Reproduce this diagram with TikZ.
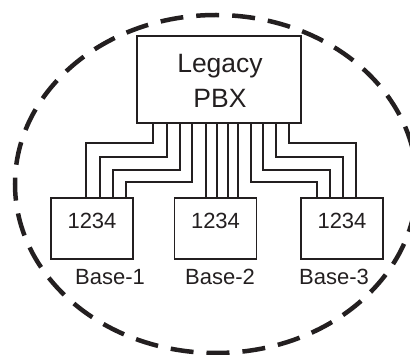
\documentclass[tikz,border=0pt]{standalone}
\usepackage{fontspec}
\setmainfont{Liberation Sans}
\definecolor{ink}{HTML}{231F20}
\begin{document}
\begin{tikzpicture}[x=1pt,y=-1pt,
  box/.style={draw=ink,line width=1.6pt,inner sep=0pt},
  wire/.style={draw=ink,line width=1.1pt},
  basebox/.style={box,minimum width=82pt,minimum height=61pt},
  lbl/.style={text=ink,font=\fontsize{22}{25}\selectfont,inner sep=0pt},
  ring/.style={draw=ink,line width=4.5pt,dash pattern=on 23pt off 13pt}]
\useasboundingbox (0,0) rectangle (410,355);
\draw[ring] (216,184) ellipse [x radius=201pt,y radius=169pt];
\node[box,minimum width=164pt,minimum height=87pt] (pbx) at (219,79.5) {};
\node[text=ink,align=center,font=\fontsize{26.5}{35}\selectfont,inner sep=0pt] (pbxt) at (220,81) {Legacy\\PBX};
\node[basebox] (b1) at (92,228.5) {};
\node[basebox] (b2) at (215.5,228.5) {};
\node[basebox] (b3) at (342,228.5) {};
\node[lbl] (n1) at (92,221) {1234};
\node[lbl] (n2) at (215.5,221) {1234};
\node[lbl] (n3) at (342,221) {1234};
\node[lbl] (l1) at (110,277) {Base-1};
\node[lbl] (l2) at (220,277) {Base-2};
\node[lbl] (l3) at (334,277) {Base-3};
% left group
\draw[wire] (153,0 |- pbx.south) |- (86,143) -- (86,0 |- b1.north);
\draw[wire] (167,0 |- pbx.south) |- (100,157) -- (100,0 |- b1.north);
\draw[wire] (180,0 |- pbx.south) |- (113,170) -- (113,0 |- b1.north);
\draw[wire] (192,0 |- pbx.south) |- (126,182) -- (126,0 |- b1.north);
% middle group
\draw[wire] (206,0 |- pbx.south) -- (206,0 |- b2.north);
\draw[wire] (217,0 |- pbx.south) -- (217,0 |- b2.north);
\draw[wire] (228,0 |- pbx.south) -- (228,0 |- b2.north);
\draw[wire] (238,0 |- pbx.south) -- (238,0 |- b2.north);
% right group
\draw[wire] (251,0 |- pbx.south) |- (317,182) -- (317,0 |- b3.north);
\draw[wire] (263,0 |- pbx.south) |- (330,170) -- (330,0 |- b3.north);
\draw[wire] (276,0 |- pbx.south) |- (343,157) -- (343,0 |- b3.north);
\draw[wire] (289,0 |- pbx.south) |- (356,143) -- (356,0 |- b3.north);
\end{tikzpicture}
\end{document}
